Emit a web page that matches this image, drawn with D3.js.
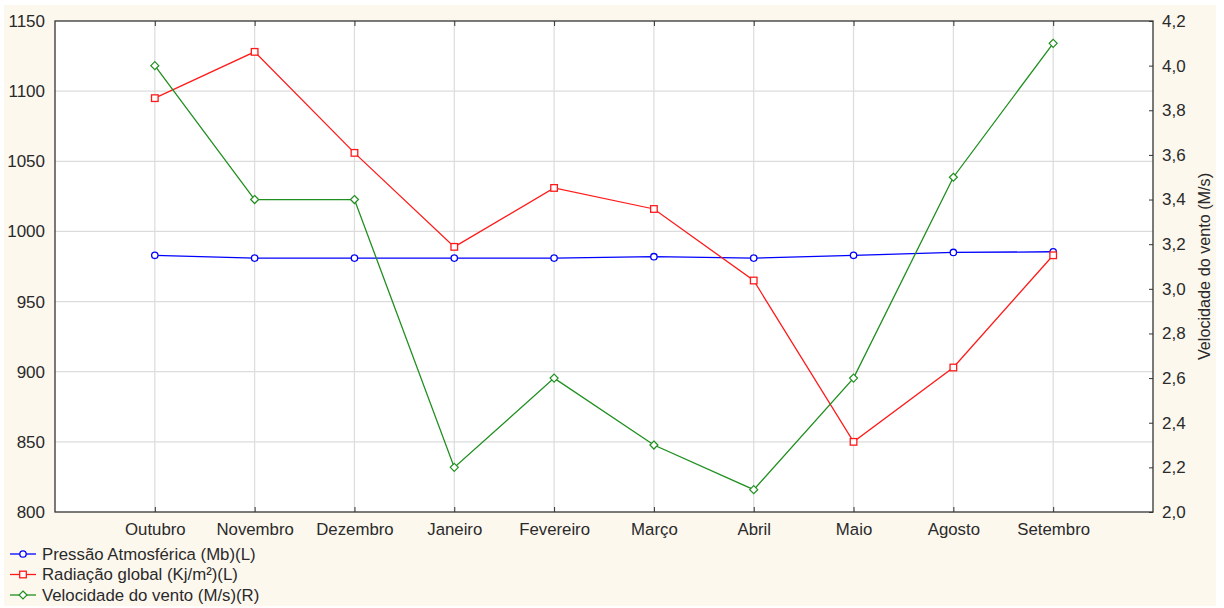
<!DOCTYPE html>
<html>
<head>
<meta charset="utf-8">
<script src="https://cdn.jsdelivr.net/npm/d3@7"></script>
<style>
  html, body { margin: 0; padding: 0; background: #ffffff; }
  svg { display: block; }
  text { font-family: "Liberation Sans", Arial, sans-serif; fill: #2a2a2a; }
</style>
</head>
<body>
<svg id="chart" width="1224" height="608"></svg>
<script>
// Months on the x axis
const months = ["Outubro", "Novembro", "Dezembro", "Janeiro", "Fevereiro", "Março", "Abril", "Maio", "Agosto", "Setembro"];

// Left axis series
const pressao = [983, 981, 981, 981, 981, 982, 981, 983, 985, 985.5];
const radiacao = [1095, 1128, 1056, 989, 1031, 1016, 965, 850, 903, 983];

// Right axis series
const vento = [4.0, 3.4, 3.4, 2.2, 2.6, 2.3, 2.1, 2.6, 3.5, 4.1];

// Tick values
const leftTicks = [800, 850, 900, 950, 1000, 1050, 1100, 1150];
const rightTicks = [2.0, 2.2, 2.4, 2.6, 2.8, 3.0, 3.2, 3.4, 3.6, 3.8, 4.0, 4.2];

const legendLabels = ["Pressão Atmosférica (Mb)(L)", "Radiação global (Kj/m²)(L)", "Velocidade do vento (M/s)(R)"];
const colors = ["#0000ff", "#ff1a1a", "#1f8f1f"];

const svg = d3.select("#chart");
const FONT = "Liberation Sans, Arial, sans-serif";

// cream page background
svg.append("rect").attr("x", 4).attr("y", 5).attr("width", 1212).attr("height", 601).attr("fill", "#fdf8ee");

const pL = 55, pR = 1153, pT = 21, pB = 512;

svg.append("rect").attr("x", pL).attr("y", pT).attr("width", pR - pL).attr("height", pB - pT).attr("fill", "#ffffff");

const x = d3.scalePoint().domain(months).range([pL, pR]).padding(1);
const yL = d3.scaleLinear().domain([800, 1150]).range([pB, pT]);
const yR = d3.scaleLinear().domain([2.0, 4.2]).range([pB, pT]);

// grid
const grid = svg.append("g");
grid.selectAll("line.h").data(leftTicks.slice(1, -1)).join("line")
  .attr("x1", pL).attr("x2", pR)
  .attr("y1", d => yL(d)).attr("y2", d => yL(d))
  .attr("stroke", "#dcdcdc").attr("stroke-width", 1.2);
grid.selectAll("line.v").data(months).join("line")
  .attr("x1", d => x(d)).attr("x2", d => x(d))
  .attr("y1", pT).attr("y2", pB)
  .attr("stroke", "#dcdcdc").attr("stroke-width", 1.2);

// frame
svg.append("rect").attr("x", pL).attr("y", pT).attr("width", pR - pL).attr("height", pB - pT)
  .attr("fill", "none").attr("stroke", "#333").attr("stroke-width", 1.3);

// axes
const fmtR = d => d3.format(".1f")(d).replace(".", ",");

const axL = svg.append("g").attr("transform", `translate(${pL},0)`)
  .call(d3.axisLeft(yL).tickValues(leftTicks).tickFormat(d3.format("d")).tickSize(0).tickPadding(10));
axL.select(".domain").remove();
axL.selectAll("text").attr("font-size", 17).style("fill", "#2a2a2a").style("font-family", FONT);

const axR = svg.append("g").attr("transform", `translate(${pR},0)`)
  .call(d3.axisRight(yR).tickValues(rightTicks).tickFormat(fmtR).tickSize(-4).tickPadding(9));
axR.select(".domain").remove();
axR.selectAll("line").attr("stroke", "#333");
axR.selectAll("text").attr("font-size", 17).style("fill", "#2a2a2a").style("font-family", FONT);

const axB = svg.append("g").attr("transform", `translate(0,${pB})`)
  .call(d3.axisBottom(x).tickSize(-5).tickPadding(11));
axB.select(".domain").remove();
axB.selectAll("line").attr("stroke", "#333");
axB.selectAll("text").attr("font-size", 16.8).style("fill", "#2a2a2a").style("font-family", FONT);

const axT = svg.append("g").attr("transform", `translate(0,${pT})`)
  .call(d3.axisTop(x).tickSize(-5).tickFormat(""));
axT.select(".domain").remove();
axT.selectAll("line").attr("stroke", "#333");

// right axis title
svg.append("text")
  .attr("transform", `translate(1210,${(pT + pB) / 2}) rotate(-90)`)
  .attr("text-anchor", "middle")
  .attr("font-size", 16.2)
  .text("Velocidade do vento (M/s)");

// series lines
const lineL = d3.line().x((d, i) => x(months[i])).y(d => yL(d));
const lineR = d3.line().x((d, i) => x(months[i])).y(d => yR(d));

svg.append("path").datum(pressao).attr("d", lineL).attr("fill", "none").attr("stroke", colors[0]).attr("stroke-width", 1.3);
svg.append("path").datum(radiacao).attr("d", lineL).attr("fill", "none").attr("stroke", colors[1]).attr("stroke-width", 1.3);
svg.append("path").datum(vento).attr("d", lineR).attr("fill", "none").attr("stroke", colors[2]).attr("stroke-width", 1.3);

// markers
function circleMarker(g, cx, cy, c) {
  g.append("circle").attr("cx", cx).attr("cy", cy).attr("r", 3.2).attr("fill", "#fff").attr("stroke", c).attr("stroke-width", 1.3);
}
function squareMarker(g, cx, cy, c) {
  g.append("rect").attr("x", cx - 3.3).attr("y", cy - 3.3).attr("width", 6.6).attr("height", 6.6).attr("fill", "#fff").attr("stroke", c).attr("stroke-width", 1.3);
}
function diamondMarker(g, cx, cy, c) {
  g.append("path").attr("d", `M${cx},${cy - 4}L${cx + 4},${cy}L${cx},${cy + 4}L${cx - 4},${cy}Z`).attr("fill", "#fff").attr("stroke", c).attr("stroke-width", 1.2);
}

const mk = svg.append("g");
pressao.forEach((v, i) => circleMarker(mk, x(months[i]), yL(v), colors[0]));
radiacao.forEach((v, i) => squareMarker(mk, x(months[i]), yL(v), colors[1]));
vento.forEach((v, i) => diamondMarker(mk, x(months[i]), yR(v), colors[2]));

// legend
const markers = [circleMarker, squareMarker, diamondMarker];
const lg = svg.append("g");
legendLabels.forEach((lab, i) => {
  const ly = 554 + i * 20.5;
  lg.append("line").attr("x1", 10).attr("x2", 36).attr("y1", ly).attr("y2", ly).attr("stroke", colors[i]).attr("stroke-width", 1.3);
  markers[i](lg, 23, ly, colors[i]);
  lg.append("text").attr("x", 42).attr("y", ly + 5.8).attr("font-size", 16.8).text(lab);
});
</script>
</body>
</html>
